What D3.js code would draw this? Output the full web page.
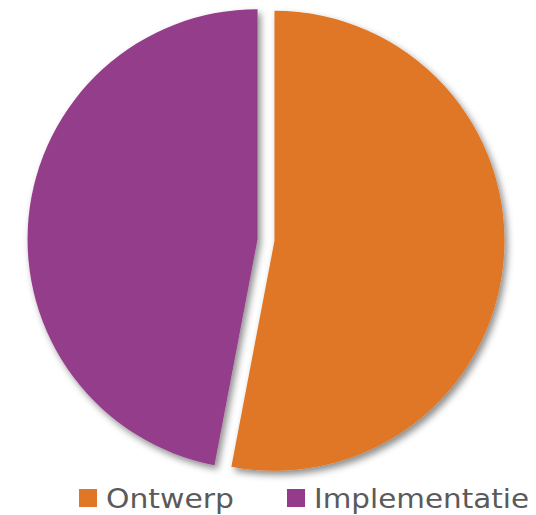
<!DOCTYPE html>
<html>
<head>
<meta charset="utf-8">
<script src="https://cdn.jsdelivr.net/npm/d3@7"></script>
<style>
  body { margin: 0; background: #fff; }
</style>
</head>
<body>
<div id="chart"></div>
<script>
var categories = ['Ontwerp', 'Implementatie'];
var values = [53, 47];
var colors = ['#df7726', '#943c8b'];

var width = 536,
	height = 515,
	radius = 230,
	cx = 266,
	cy = 240,
	explode = 8.5;

var svg = d3.select('#chart').append('svg')
	.attr('width', width)
	.attr('height', height);

// soft shadow under the slices
var defs = svg.append('defs');
var filter = defs.append('filter')
	.attr('id', 'shadow')
	.attr('x', '-10%').attr('y', '-10%')
	.attr('width', '130%').attr('height', '130%');
filter.append('feDropShadow')
	.attr('dx', 3).attr('dy', 4)
	.attr('stdDeviation', 3.5)
	.attr('flood-color', '#000')
	.attr('flood-opacity', 0.45);

var pie = d3.pie().sort(null).value(function(d){ return d; });
var arc = d3.arc().innerRadius(0).outerRadius(radius);

var g = svg.append('g')
	.attr('transform', 'translate(' + cx + ',' + cy + ')');

g.selectAll('path')
	.data(pie(values))
	.enter().append('path')
		.attr('d', arc)
		.attr('fill', function(d, i){ return colors[i]; })
		.attr('filter', 'url(#shadow)')
		.attr('transform', function(d){
			var a = (d.startAngle + d.endAngle) / 2;
			return 'translate(' + (Math.sin(a) * explode) + ',' + (-Math.cos(a) * explode) + ')';
		});

// legend
var legendX = [79, 287],
	legendW = [128, 215];

var legend = svg.selectAll('.legend')
	.data(categories)
	.enter().append('g')
		.attr('class', 'legend')
		.attr('transform', function(d, i){ return 'translate(' + legendX[i] + ',489)'; });

legend.append('rect')
	.attr('width', 18)
	.attr('height', 18)
	.attr('fill', function(d, i){ return colors[i]; });

legend.append('text')
	.attr('x', 27)
	.attr('y', 19)
	.attr('font-family', 'DejaVu Sans, sans-serif')
	.attr('font-size', 27)
	.attr('fill', '#5a5a5a')
	.attr('textLength', function(d, i){ return legendW[i]; })
	.attr('lengthAdjust', 'spacingAndGlyphs')
	.text(function(d){ return d; });
</script>
</body>
</html>
